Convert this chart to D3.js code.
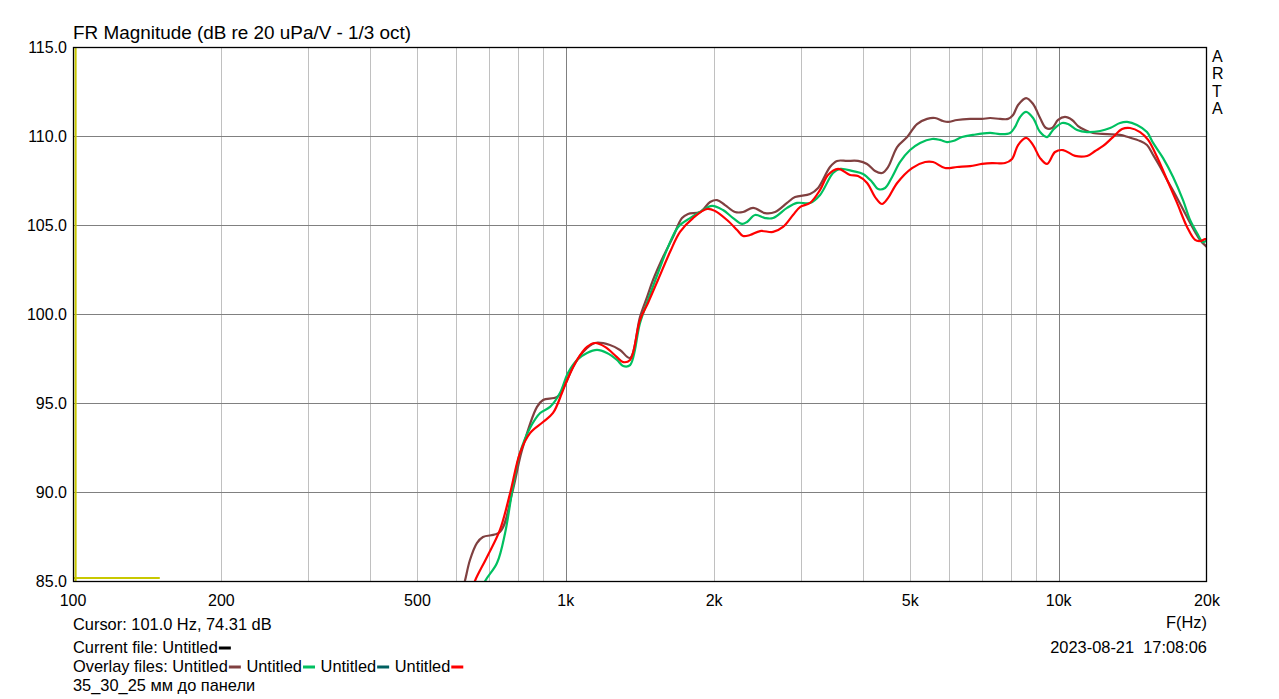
<!DOCTYPE html>
<html><head><meta charset="utf-8">
<script src="https://cdn.jsdelivr.net/npm/d3@7/dist/d3.min.js"></script>
<style>html,body{margin:0;padding:0;background:#fff}svg{display:block}text{font-family:"Liberation Sans",Arial,sans-serif;fill:#000;white-space:pre}</style>
</head><body>
<script>
// ---- data ----
const xTicks = [100, 200, 500, 1000, 2000, 5000, 10000, 20000];
const xTickLabels = ["100", "200", "500", "1k", "2k", "5k", "10k", "20k"];
const yTicks = [85, 90, 95, 100, 105, 110, 115];
const yTickLabels = ["85.0", "90.0", "95.0", "100.0", "105.0", "110.0", "115.0"];

const brownFreq = [610,624,639,660,679,735,778,815,874,899,960,996,1034,1084,1146,1229,1288,1350,1414,1462,1503,1575,1650,1721,1770,1872,1962,2027,2104,2205,2289,2399,2537,2658,2811,2918,3130,3250,3436,3551,3721,3917,4086,4242,4383,4508,4702,4927,5160,5408,5613,5827,5965,6221,6611,6993,7258,7605,7895,8082,8273,8589,8874,9169,9429,9696,9972,10300,10650,10950,11310,11740,12540,13320,13830,14630,15110,15550,16070,16600,17390,18220,18920,19360,20000];
const brownDb = [84.0,85.0,86.18,87.13,87.47,87.75,89.94,92.36,94.78,95.17,95.34,96.01,97.02,97.87,98.37,98.26,97.98,97.53,99.83,100.96,101.91,103.20,104.33,105.39,105.62,105.73,106.29,106.40,106.12,105.73,105.73,105.96,105.67,105.73,106.24,106.57,106.74,107.08,108.26,108.60,108.60,108.60,108.43,108.03,107.92,108.26,109.38,109.94,110.67,110.96,111.01,110.84,110.79,110.90,110.96,110.96,111.01,110.96,110.96,111.18,111.74,112.13,111.80,111.01,110.45,110.45,110.90,111.07,110.90,110.56,110.34,110.17,110.11,110.06,109.94,109.72,109.49,108.93,108.26,107.53,106.52,105.45,104.61,104.16,103.76];

const greenFreq = [670,686,725,753,781,807,846,887,929,973,1010,1054,1104,1157,1212,1270,1307,1350,1414,1468,1538,1612,1690,1787,1872,1980,2084,2185,2279,2332,2421,2537,2634,2811,2946,3130,3280,3485,3601,3827,4010,4182,4302,4445,4593,4768,4994,5234,5535,5746,5937,6106,6368,6704,7258,7605,7969,8157,8351,8589,8874,9169,9474,9741,10160,10450,10900,11420,12140,12720,13320,13770,14420,15110,15550,16290,17070,17880,18480,19090,19630,20000];
const greenDb = [84.3,85.0,86.01,87.70,90.28,92.19,93.60,94.44,94.78,95.56,96.69,97.42,97.81,97.98,97.81,97.42,97.08,97.13,99.49,100.79,102.30,103.76,104.89,105.39,105.73,106.07,105.84,105.39,105.06,105.17,105.56,105.39,105.39,105.96,106.24,106.24,106.69,107.92,108.15,108.03,107.87,107.42,107.02,107.08,107.70,108.54,109.21,109.61,109.83,109.78,109.66,109.72,109.94,110.06,110.17,110.11,110.17,110.51,111.07,111.35,111.01,110.22,109.94,110.34,110.73,110.67,110.34,110.22,110.28,110.45,110.73,110.79,110.62,110.22,109.61,108.76,107.70,106.40,105.28,104.55,104.04,104.16];

const redFreq = [640,654,692,735,771,807,846,899,942,982,1006,1054,1104,1146,1201,1270,1307,1350,1414,1468,1538,1627,1705,1812,1934,2008,2124,2226,2289,2365,2479,2634,2759,2891,2987,3130,3280,3404,3568,3773,3917,4086,4242,4383,4508,4702,5041,5358,5561,5882,6221,6611,6993,7327,7785,8044,8273,8589,8874,9169,9474,9833,10210,10800,11420,11860,12310,12890,13450,13960,14630,15190,15840,16600,17390,18220,18920,19360,19820,20000];
const redDb = [84.2,85.0,86.35,87.87,89.94,92.19,93.31,93.93,94.44,95.56,96.29,97.42,98.15,98.37,98.15,97.58,97.30,97.42,99.66,100.62,101.91,103.48,104.61,105.39,105.90,105.79,105.28,104.72,104.38,104.44,104.66,104.61,104.89,105.56,106.01,106.24,106.97,107.81,108.15,107.81,107.75,107.36,106.57,106.18,106.52,107.36,108.20,108.54,108.54,108.20,108.26,108.31,108.43,108.48,108.48,108.71,109.49,109.89,109.49,108.76,108.43,109.10,109.21,108.88,108.88,109.16,109.44,109.94,110.39,110.45,110.22,109.78,108.82,107.53,106.24,104.89,104.16,104.10,104.21,104.21];

// cursor marker (yellow)
const cursorFreq = [101];
const markerFreq = [100, 150];
const markerDb = [85.17, 85.17];

const series = [
  {name: "brown", freq: brownFreq, db: brownDb, color: "#804040"},
  {name: "green", freq: greenFreq, db: greenDb, color: "#00c060"},
  {name: "red", freq: redFreq, db: redDb, color: "#ff0000"}
];

// ---- layout ----
const W = 1279, H = 699;
const L = 73, R = 1207, T = 47, B = 581;
const FS = 16.4;
const svg = d3.select("body").append("svg").attr("width", W).attr("height", H);
const x = d3.scaleLog().domain([100, 20000]).range([L, R]);
const y = d3.scaleLinear().domain([85, 115]).range([B, T]);

// grid: minor vertical lines
const minor = [];
for (let d = 100; d < 20000; d *= 10) for (let k = 2; k <= 9; k++) { const v = d * k; if (v < 20000) minor.push(v); }
svg.append("g").selectAll("line").data(minor).join("line")
  .attr("x1", d => Math.round(x(d)) + 0.5).attr("x2", d => Math.round(x(d)) + 0.5)
  .attr("y1", T).attr("y2", B).attr("stroke", "#c0c0c0").attr("stroke-width", 1);
svg.append("g").selectAll("line").data([1000, 10000]).join("line")
  .attr("x1", d => Math.round(x(d)) + 0.5).attr("x2", d => Math.round(x(d)) + 0.5)
  .attr("y1", T).attr("y2", B).attr("stroke", "#808080").attr("stroke-width", 1);
svg.append("g").selectAll("line").data(yTicks.slice(1, -1)).join("line")
  .attr("x1", L).attr("x2", R)
  .attr("y1", d => Math.round(y(d)) + 0.5).attr("y2", d => Math.round(y(d)) + 0.5)
  .attr("stroke", "#808080").attr("stroke-width", 1);

// clip
svg.append("clipPath").attr("id", "clip").append("rect").attr("x", L).attr("y", T).attr("width", R - L).attr("height", B - T);

// yellow cursor marker
svg.append("line").attr("x1", x(cursorFreq[0]) + 0.5).attr("x2", x(cursorFreq[0]) + 0.5)
  .attr("y1", T).attr("y2", B).attr("stroke", "#c8c800").attr("stroke-width", 2);
svg.append("line").attr("x1", x(markerFreq[0])).attr("x2", x(markerFreq[1]))
  .attr("y1", y(markerDb[0])).attr("y2", y(markerDb[1])).attr("stroke", "#c8c800").attr("stroke-width", 2);

// curves
const line = d3.line().x(d => x(d[0])).y(d => y(d[1])).curve(d3.curveCatmullRom.alpha(0.5));
const g = svg.append("g").attr("clip-path", "url(#clip)");
series.forEach(s => {
  const pts = s.freq.map((f, i) => [f, s.db[i]]);
  g.append("path").datum(pts).attr("d", line).attr("fill", "none")
    .attr("stroke", s.color).attr("stroke-width", 2.2).attr("stroke-linejoin", "round");
});

// border
svg.append("rect").attr("x", L + 0.5).attr("y", T + 0.5).attr("width", R - L - 1).attr("height", B - T)
  .attr("fill", "none").attr("stroke", "#000").attr("stroke-width", 1.3);

// axes labels
svg.append("g").selectAll("text").data(yTicks).join("text")
  .attr("x", 67).attr("y", d => y(d) + 6).attr("text-anchor", "end").attr("font-size", 16)
  .text((d, i) => yTickLabels[i]);
svg.append("g").selectAll("text").data(xTicks).join("text")
  .attr("x", d => x(d)).attr("y", 606).attr("text-anchor", "middle").attr("font-size", 16)
  .text((d, i) => xTickLabels[i]);

// title
svg.append("text").attr("x", 73).attr("y", 39).attr("font-size", 18.9).text("FR Magnitude (dB re 20 uPa/V - 1/3 oct)");
// ARTA
["A", "R", "T", "A"].forEach((c, i) => svg.append("text").attr("x", 1212).attr("y", 62 + i * 17.3).attr("font-size", 16).text(c));
// bottom texts
svg.append("text").attr("x", 1207).attr("y", 628).attr("text-anchor", "end").attr("font-size", FS).text("F(Hz)");
svg.append("text").attr("x", 1207).attr("y", 653).attr("text-anchor", "end").attr("font-size", FS).text("2023-08-21  17:08:06");
svg.append("text").attr("x", 73).attr("y", 630).attr("font-size", FS).text("Cursor: 101.0 Hz, 74.31 dB");
svg.append("text").attr("x", 73).attr("y", 691).attr("font-size", FS).text("35_30_25 мм до панели");

// legend rows with swatches
function legendRow(yy, parts) {
  let cx = 73;
  parts.forEach(p => {
    const tmp = svg.append("text").attr("font-size", FS).attr("x", cx).attr("y", yy).text(p.text);
    const w = tmp.node().getComputedTextLength();
    cx += w;
    if (p.color) {
      svg.append("line").attr("x1", cx + 1).attr("x2", cx + 13).attr("y1", yy - 5).attr("y2", yy - 5)
        .attr("stroke", p.color).attr("stroke-width", 3);
      cx += 14;
    }
  });
}
legendRow(653, [{text: "Current file: Untitled", color: "#000000"}]);
legendRow(672, [
  {text: "Overlay files: Untitled", color: "#804040"},
  {text: " Untitled", color: "#00c060"},
  {text: " Untitled", color: "#006060"},
  {text: " Untitled", color: "#ff0000"}
]);
</script>
</body></html>
